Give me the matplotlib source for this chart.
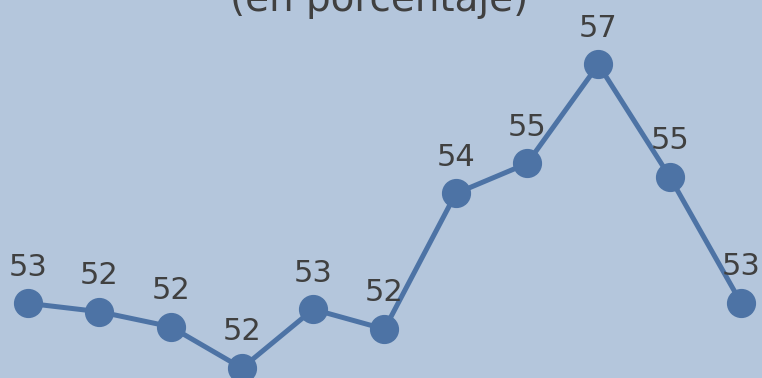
import matplotlib
matplotlib.use("Agg")
from matplotlib import pyplot as plt
import numpy as np

# Serie (en porcentaje)
periodos = list(range(11))
valores = [52.62, 52.48, 52.23, 51.54, 52.52, 52.19, 54.45, 54.95, 56.60, 54.73, 52.63]
titulo = "(en porcentaje)"

fondo = "#B4C6DC"
azul = "#4D73A5"
gris = "#404040"

fig = plt.figure(figsize=(7.62, 3.78), dpi=100, facecolor=fondo)
ax = fig.add_axes([0, 0, 1, 1])
ax.set_facecolor(fondo)

ax.plot(periodos, valores, color=azul, lw=3.6, marker="o", ms=20,
        markerfacecolor=azul, markeredgecolor=azul, clip_on=False, zorder=3)

for x, v in zip(periodos, valores):
    ax.annotate("%.0f" % v, (x, v), xytext=(0, 20), textcoords="offset points",
                ha="center", va="baseline", fontsize=22, color=gris)

ax.set_xlim(-0.393, 10.295)
ax.set_ylim(51.375, 57.675)
ax.axis("off")

fig.text(0.497, 1 - 11 / 378, titulo, ha="center", va="baseline",
         fontsize=28, color=gris)

plt.savefig("out.png", dpi=100, facecolor=fondo)
